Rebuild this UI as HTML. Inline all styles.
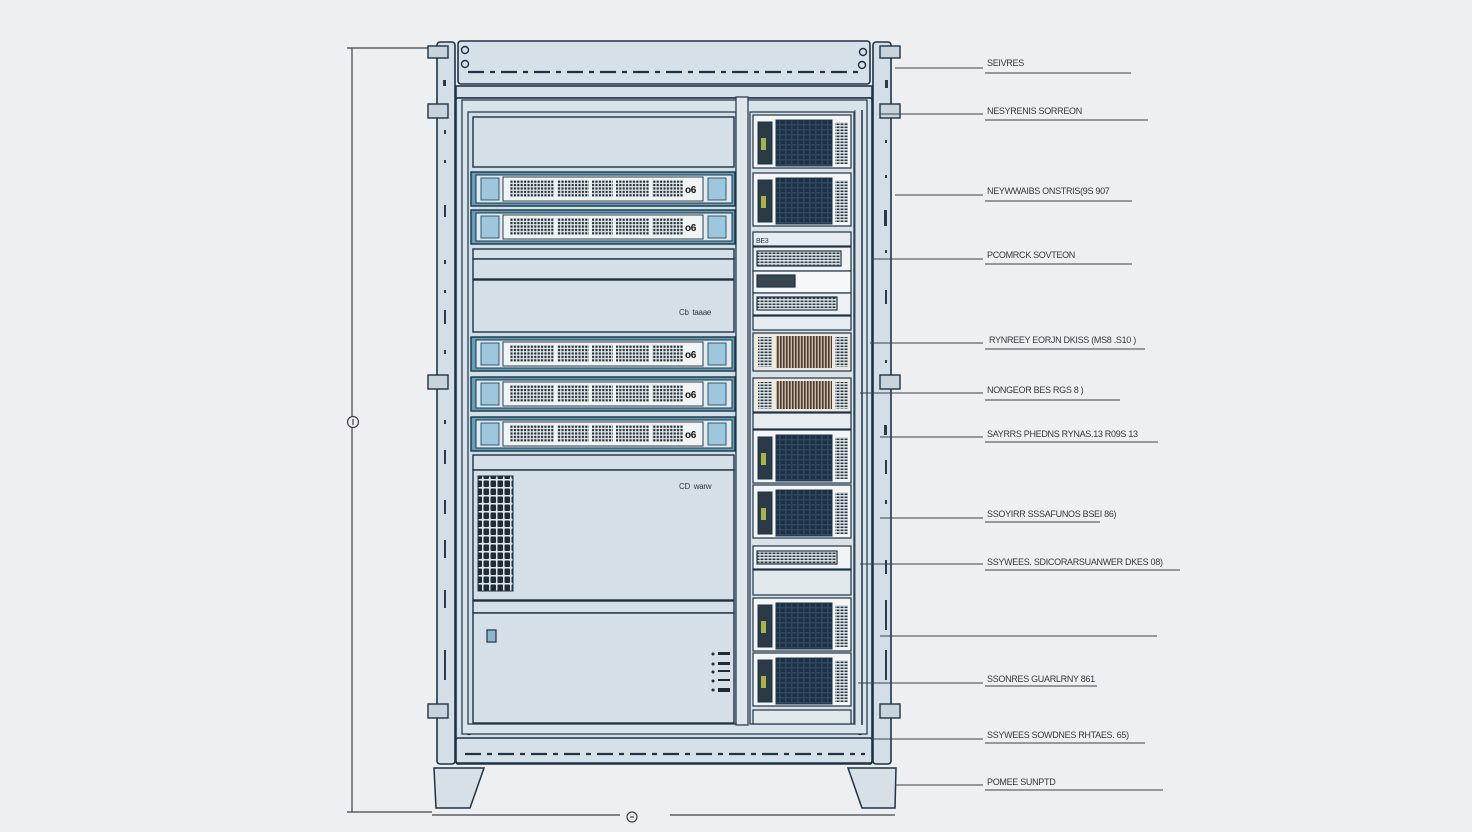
<!DOCTYPE html>
<html><head><meta charset="utf-8"><style>
html,body{margin:0;padding:0;background:#eeeff0;}
svg{display:block}
text{font-family:"Liberation Sans",sans-serif;font-size:9px;fill:#2f3842;letter-spacing:-0.3px}
</style></head><body>
<svg width="1472" height="832" viewBox="0 0 1472 832" xmlns="http://www.w3.org/2000/svg">
<defs>
<pattern id="dots" width="3.4" height="3.4" patternUnits="userSpaceOnUse"><rect width="3.4" height="3.4" fill="#e9eef0"/><rect x="0.4" y="0.4" width="2.2" height="2.2" fill="#27313a"/></pattern>
<pattern id="fan" width="6" height="5" patternUnits="userSpaceOnUse"><rect width="6" height="5" fill="#2f4860"/><rect x="0.5" y="0.5" width="4.5" height="3.5" fill="#1d3045"/></pattern>
<pattern id="brown" width="3" height="6" patternUnits="userSpaceOnUse"><rect width="3" height="6" fill="#c9b9a6"/><rect x="0" y="0" width="1.6" height="6" fill="#4b3d31"/></pattern>
<pattern id="strip" width="4" height="3" patternUnits="userSpaceOnUse"><rect width="4" height="3" fill="#e5eaec"/><rect x="0.5" y="0.5" width="3" height="1.6" fill="#2b3946"/></pattern>
<pattern id="grid" width="7" height="8" patternUnits="userSpaceOnUse"><rect width="7" height="8" fill="#dfe6ea"/><rect x="0.5" y="0.5" width="5.5" height="6.5" rx="1" fill="#1f2c38"/></pattern>
</defs>
<rect width="1472" height="832" fill="#eeeff0"/>

<g stroke="#3a434c" stroke-width="1.2" fill="none">
<line x1="352" y1="48" x2="352" y2="812"/>
<line x1="347" y1="48" x2="432" y2="48"/>
<line x1="347" y1="812" x2="432" y2="812"/>
<circle cx="353" cy="422" r="5.5" fill="#eeeff0"/>
<line x1="353" y1="419" x2="353" y2="425"/>
<line x1="432" y1="815" x2="620" y2="815"/>
<line x1="670" y1="815" x2="895" y2="815"/>
<circle cx="632" cy="817" r="5" fill="#eeeff0"/>
<line x1="630" y1="817" x2="634" y2="817"/>
</g>

<g stroke="#1e3346" stroke-width="1.5" fill="#d6e0e6">
<path d="M434 768 L484 768 L470 808 L436 808 Z"/>
<path d="M848 768 L896 768 L895 808 L862 808 Z"/>
</g>

<g stroke="#1e3346" stroke-width="1.6" fill="#d3dee6">
<rect x="437" y="42" width="18" height="722" rx="3"/>
<rect x="873" y="42" width="18" height="722" rx="3"/>
</g>
<g fill="#2a3a4a">
<rect x="443" y="80" width="3" height="6"/><rect x="444" y="130" width="2" height="4"/><rect x="444" y="160" width="2" height="3"/>
<rect x="444" y="205" width="2" height="12"/><rect x="444" y="260" width="2" height="4"/><rect x="444" y="290" width="2" height="3"/>
<rect x="444" y="310" width="2" height="14"/><rect x="444" y="350" width="2" height="4"/><rect x="444" y="420" width="2" height="4"/>
<rect x="444" y="450" width="2" height="14"/><rect x="444" y="500" width="2" height="14"/><rect x="444" y="540" width="2" height="18"/>
<rect x="444" y="590" width="2" height="18"/><rect x="444" y="650" width="2" height="30"/>
<rect x="885" y="80" width="3" height="8"/><rect x="885" y="140" width="2" height="3"/><rect x="885" y="175" width="2" height="3"/>
<rect x="884" y="210" width="3" height="16"/><rect x="885" y="250" width="2" height="3"/><rect x="885" y="290" width="2" height="14"/>
<rect x="885" y="360" width="2" height="3"/><rect x="884" y="425" width="3" height="10"/><rect x="885" y="460" width="2" height="14"/>
<rect x="885" y="500" width="2" height="4"/><rect x="885" y="560" width="2" height="14"/><rect x="885" y="600" width="2" height="30"/>
<rect x="885" y="650" width="2" height="30"/>
</g>
<g fill="#c8d4dc" stroke="#1e3346" stroke-width="1.4">
<rect x="428" y="46" width="20" height="12"/><rect x="428" y="104" width="20" height="14"/><rect x="428" y="375" width="20" height="14"/><rect x="428" y="704" width="20" height="14"/>
<rect x="880" y="46" width="20" height="12"/><rect x="880" y="104" width="20" height="14"/><rect x="880" y="375" width="20" height="14"/><rect x="880" y="704" width="20" height="14"/>
</g>

<g stroke="#1e3346" stroke-width="1.6" fill="#d5e0e8">
<rect x="458" y="41" width="412" height="43" rx="3"/>
<rect x="456" y="86" width="416" height="12"/>
<rect x="456" y="98" width="416" height="666" rx="2"/>
<rect x="456" y="738" width="416" height="25" rx="2"/>
</g>
<g stroke="#1e3346" stroke-width="2.2" stroke-dasharray="16,6,5,6">
<line x1="468" y1="72" x2="860" y2="72"/>
<line x1="465" y1="754" x2="865" y2="754"/>
</g>
<g fill="none" stroke="#1e3346" stroke-width="1.4">
<circle cx="465" cy="50" r="3.5"/><circle cx="465" cy="64" r="3.5"/><circle cx="863" cy="52" r="3.5"/><circle cx="862" cy="65" r="3.5"/>
<circle cx="469" cy="731" r="3.5"/><circle cx="860" cy="731" r="3.5"/>
</g>
<rect x="462" y="100" width="405" height="634" fill="#d8e3ea" stroke="#1e3346" stroke-width="1.2"/>
<rect x="468" y="112" width="268" height="612" fill="#d2dee6" stroke="#1e3346" stroke-width="1.2"/>
<rect x="736" y="97" width="12" height="628" fill="#dfe7ec" stroke="#1e3346" stroke-width="1.2"/>
<rect x="750" y="112" width="104" height="612" fill="#d8e2e8" stroke="#1e3346" stroke-width="1.2"/>
<line x1="862" y1="110" x2="862" y2="725" stroke="#1e3346" stroke-width="1.5"/>
<line x1="855" y1="110" x2="855" y2="725" stroke="#1e3346" stroke-width="0.8"/>

<g stroke="#1e3346" stroke-width="1.4" fill="#d4dfe7">
<rect x="473" y="117" width="261" height="50"/>
<rect x="473" y="249" width="261" height="10"/>
<rect x="473" y="259" width="261" height="20"/>
<rect x="473" y="280" width="261" height="52"/>
<rect x="473" y="455" width="261" height="15"/>
<rect x="473" y="470" width="261" height="130"/>
<rect x="473" y="601" width="261" height="12"/>
<rect x="473" y="613" width="261" height="110"/>
</g>
<text x="679" y="315" style="font-size:8px">Cb &#160;taaae</text>
<text x="679" y="489" style="font-size:8px">CD &#160;warw</text>
<rect x="478" y="476" width="35" height="115" fill="url(#grid)" stroke="#1e3346" stroke-width="1"/>
<rect x="487" y="630" width="9" height="12" fill="#8fb6cf" stroke="#1e3346" stroke-width="1.2"/>
<g fill="#1e2a36">
<rect x="718" y="652" width="12" height="3"/><rect x="718" y="662" width="12" height="3"/><rect x="718" y="670" width="12" height="2"/><rect x="718" y="679" width="12" height="2"/><rect x="718" y="688" width="12" height="4"/>
<circle cx="713" cy="654" r="1.5"/><circle cx="713" cy="664" r="1.5"/><circle cx="713" cy="672" r="1.5"/><circle cx="713" cy="681" r="1.5"/><circle cx="713" cy="690" r="1.5"/>
</g>

<g id="srv">
<rect x="471" y="172" width="264" height="34" fill="#5f9fb8" stroke="#1e3346" stroke-width="1.4"/>
<rect x="476" y="175" width="256" height="28" fill="#e3eaee" stroke="#1e3346" stroke-width="1"/>
<rect x="481" y="178" width="18" height="22" fill="#9ec6dc" stroke="#2c5a73" stroke-width="1"/>
<rect x="503" y="177" width="200" height="24" fill="#f1f4f5" stroke="#2c4050" stroke-width="1"/>
<rect x="510" y="180" width="173" height="17" fill="url(#dots)"/>
<rect x="554" y="178" width="3" height="22" fill="#f1f4f5"/><rect x="589" y="178" width="3" height="22" fill="#f1f4f5"/><rect x="613" y="178" width="3" height="22" fill="#f1f4f5"/><rect x="649" y="178" width="3" height="22" fill="#f1f4f5"/>
<text x="685" y="193" style="font-size:10px;fill:#111;font-weight:bold">o6</text>
<rect x="708" y="178" width="18" height="22" fill="#9ec6dc" stroke="#2c5a73" stroke-width="1"/>
</g>
<use href="#srv" y="38"/>
<use href="#srv" y="165"/>
<use href="#srv" y="205"/>
<use href="#srv" y="245"/>

<g id="fanu">
<rect x="753" y="115" width="98" height="53" fill="#f3f5f6" stroke="#1e3346" stroke-width="1.2"/>
<rect x="758" y="122" width="14" height="42" fill="#2b3a45" stroke="#1e3346"/>
<rect x="761" y="138" width="5" height="12" fill="#a5b34a"/>
<rect x="776" y="120" width="56" height="46" fill="url(#fan)" stroke="#1e3346"/>
<rect x="835" y="122" width="13" height="42" fill="url(#strip)"/>
</g>
<use href="#fanu" y="58"/>
<use href="#fanu" y="315"/>
<use href="#fanu" y="370"/>
<use href="#fanu" y="483"/>
<use href="#fanu" y="538"/>
<g stroke="#1e3346" stroke-width="1.2">
<rect x="753" y="232" width="98" height="14" fill="#e6ecef"/>
<rect x="753" y="247" width="98" height="24" fill="#f0f3f4"/>
<rect x="757" y="251" width="84" height="15" fill="url(#strip)"/>
<rect x="753" y="271" width="98" height="22" fill="#f6f7f8"/>
<rect x="757" y="275" width="38" height="12" fill="#3a4650"/>
<rect x="753" y="293" width="98" height="22" fill="#eef2f4"/>
<rect x="757" y="297" width="80" height="13" fill="url(#strip)"/>
<rect x="753" y="316" width="98" height="14" fill="#e6ecef"/>
<rect x="753" y="333" width="98" height="38" fill="#ece8e2"/>
<rect x="758" y="337" width="14" height="30" fill="url(#strip)" stroke="none"/>
<rect x="776" y="336" width="56" height="32" fill="url(#brown)" stroke="none"/>
<rect x="835" y="337" width="13" height="30" fill="url(#strip)" stroke="none"/>
<rect x="753" y="378" width="98" height="34" fill="#ece8e2"/>
<rect x="758" y="382" width="14" height="27" fill="url(#strip)" stroke="none"/>
<rect x="776" y="381" width="56" height="28" fill="url(#brown)" stroke="none"/>
<rect x="835" y="382" width="13" height="27" fill="url(#strip)" stroke="none"/>
<rect x="753" y="413" width="98" height="16" fill="#e6ecef"/>
<rect x="753" y="546" width="98" height="23" fill="#f1f4f5"/>
<rect x="757" y="551" width="80" height="13" fill="url(#strip)"/>
<rect x="753" y="570" width="98" height="25" fill="#e1e8ec"/>
<rect x="753" y="710" width="98" height="14" fill="#e1e8ec"/>
</g>
<text x="756" y="243" style="font-size:7px">BE3</text>

<g stroke="#3a434c" stroke-width="1.1">
<line x1="895" y1="68" x2="983" y2="68"/><line x1="985" y1="73" x2="1131" y2="73"/>
<line x1="880" y1="114" x2="983" y2="114"/><line x1="985" y1="120" x2="1148" y2="120"/>
<line x1="895" y1="195" x2="983" y2="195"/><line x1="985" y1="201" x2="1132" y2="201"/>
<line x1="872" y1="259" x2="983" y2="259"/><line x1="985" y1="264" x2="1132" y2="264"/>
<line x1="870" y1="343" x2="983" y2="343"/><line x1="985" y1="349" x2="1145" y2="349"/>
<line x1="860" y1="393" x2="983" y2="393"/><line x1="985" y1="400" x2="1120" y2="400"/>
<line x1="880" y1="437" x2="983" y2="437"/><line x1="985" y1="442" x2="1158" y2="442"/>
<line x1="880" y1="518" x2="983" y2="518"/><line x1="985" y1="522" x2="1100" y2="522"/>
<line x1="860" y1="564" x2="983" y2="564"/><line x1="985" y1="570" x2="1180" y2="570"/>
<line x1="880" y1="636" x2="1157" y2="636"/>
<line x1="858" y1="683" x2="983" y2="683"/><line x1="985" y1="686" x2="1097" y2="686"/>
<line x1="872" y1="739" x2="983" y2="739"/><line x1="985" y1="743" x2="1145" y2="743"/>
<line x1="895" y1="785" x2="983" y2="785"/><line x1="985" y1="790" x2="1163" y2="790"/>
</g>
<text x="987" y="66">SEIVRES</text>
<text x="987" y="114">NESYRENIS SORREON</text>
<text x="987" y="194">NEYWWAIBS ONSTRIS(9S 907</text>
<text x="987" y="258">PCOMRCK SOVTEON</text>
<text x="989" y="343">RYNREEY EORJN DKISS (MS8 .S10 )</text>
<text x="987" y="393">NONGEOR BES RGS 8 )</text>
<text x="987" y="437">SAYRRS PHEDNS RYNAS.13 R09S 13</text>
<text x="987" y="517">SSOYIRR SSSAFUNOS BSEI 86)</text>
<text x="987" y="565">SSYWEES. SDICORARSUANWER DKES 08)</text>
<text x="987" y="682">SSONRES GUARLRNY 861</text>
<text x="987" y="738">SSYWEES SOWDNES RHTAES. 65)</text>
<text x="987" y="785">POMEE SUNPTD</text>
</svg>
</body></html>
